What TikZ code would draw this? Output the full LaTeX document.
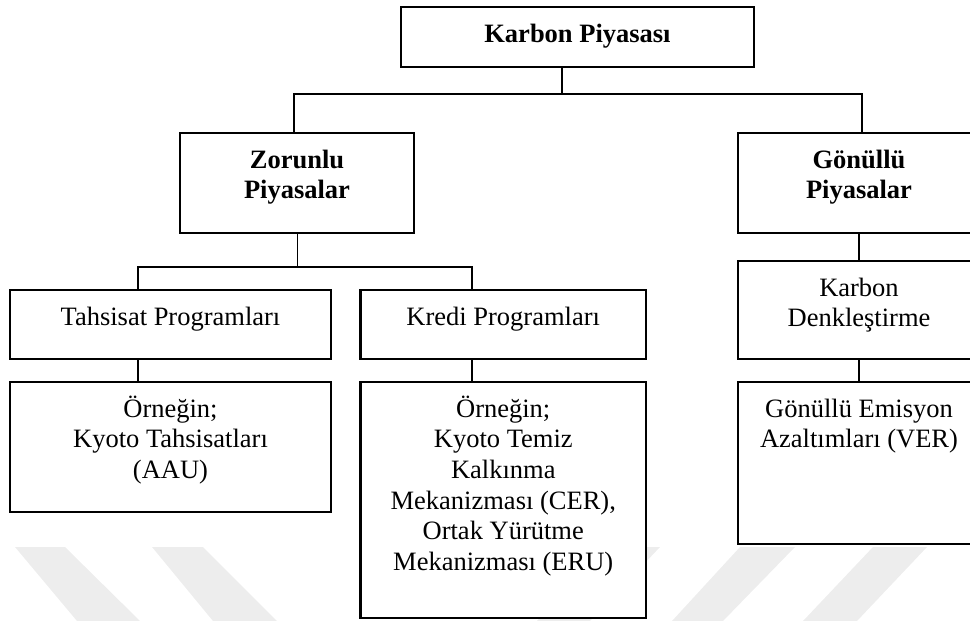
\documentclass[tikz,border=0pt]{standalone}
\usepackage{fontspec}
\setmainfont{Liberation Serif}
\usepackage{tikz}
% box text, top aligned: width, height, text
\newcommand{\kutuyazi}[3]{\parbox[c][#2][t]{#1}{\centering\rule{0pt}{35pt}#3}}

\begin{document}
\begin{tikzpicture}[x=1pt,y=-1pt,
  kutu/.style={draw, line width=2.1pt, fill=white, inner sep=0pt,
    font=\fontsize{26.5}{30.7}\selectfont},
  hat/.style={line width=1.7pt},
  iz/.style={fill=black!7}]
  \useasboundingbox (0,0) rectangle (970,621);
  \clip (0,0) rectangle (970,621);
  % filigran
  \fill[iz] (15,547) -- (65,547) -- (140,621) -- (77,621) -- cycle;
  \fill[iz] (152,547) -- (203,547) -- (277,621) -- (213,621) -- cycle;
  \fill[iz] (607,547) -- (660,547) -- (590,621) -- (537,621) -- cycle;
  \fill[iz] (740,547) -- (795,547) -- (723,621) -- (672,621) -- cycle;
  \fill[iz] (873,547) -- (927,547) -- (857,621) -- (803,621) -- cycle;
  % Kutular
  \node[kutu] (kp) at (577.5,37) {\kutuyazi{353pt}{60pt}{\bfseries Karbon Piyasası}};
  \node[kutu] (zp) at (297,183) {\kutuyazi{234pt}{100pt}{\bfseries Zorunlu\\ Piyasalar}};
  \node[kutu] (gp) at (859,183) {\kutuyazi{242pt}{100pt}{\bfseries Gönüllü\\ Piyasalar}};
  \node[kutu] (tp) at (170.5,324.5) {\kutuyazi{321pt}{69pt}{Tahsisat Programları}};
  \node[kutu] (krp) at (503.25,324.5) {\kutuyazi{285.5pt}{69pt}{Kredi Programları}};
  \node[kutu] (kd) at (859,310) {\kutuyazi{242pt}{98pt}{Karbon\\ Denkleştirme}};
  \node[kutu] (ta) at (170.5,447) {\kutuyazi{321pt}{130pt}{Örneğin;\\ Kyoto Tahsisatları\\ (AAU)}};
  \node[kutu] (ka) at (503.25,500) {\kutuyazi{285.5pt}{236pt}{Örneğin;\\ Kyoto Temiz\\ Kalkınma\\ Mekanizması (CER),\\ Ortak Yürütme\\ Mekanizması (ERU)}};
  \node[kutu] (ve) at (859,463) {\kutuyazi{242pt}{162pt}{Gönüllü Emisyon\\ Azaltımları (VER)}};
  % Baglantilar
  \coordinate (u1) at (561.7,94);
  \coordinate (u2) at (294,94);
  \coordinate (u3) at (861.7,94);
  \draw[hat] (kp.south -| u1) -- (u1);
  \draw[hat] (zp.north -| u2) -- (u2) -- (u3) -- (gp.north -| u3);
  \coordinate (a1) at (297.5,267);
  \coordinate (a2) at (138,267);
  \coordinate (a3) at (472,267);
  \draw[hat] (zp.south -| a1) -- (a1);
  \draw[hat] (tp.north -| a2) -- (a2) -- (a3) -- (krp.north -| a3);
  \draw[hat] (tp.south -| a2) -- (ta.north -| a2);
  \draw[hat] (krp.south -| a3) -- (ka.north -| a3);
  \draw[hat] (gp.south) -- (kd.north);
  \draw[hat] (kd.south) -- (ve.north);
\end{tikzpicture}
\end{document}
